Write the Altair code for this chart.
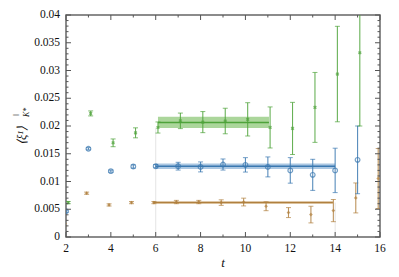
import altair as alt
import pandas as pd

# ---- data ----
t_blue = [2, 3, 4, 5, 6, 7, 8, 9, 10, 11, 12, 13, 14, 15]
y_blue = [0.00464, 0.0159, 0.01186, 0.0127, 0.01276, 0.01276, 0.01263, 0.01306, 0.0130, 0.01263, 0.0120, 0.0112, 0.0120, 0.0139]
e_blue = [0.0002, 0.0002, 0.0002, 0.0003, 0.0003, 0.0007, 0.0009, 0.0010, 0.0013, 0.0018, 0.0023, 0.0028, 0.0040, 0.0061]

t_orange = [2, 3, 4, 5, 6, 7, 8, 9, 10, 11, 12, 13, 14, 15, 16]
y_orange = [0.00224, 0.00789, 0.00578, 0.0062, 0.0062, 0.0063, 0.0063, 0.0062, 0.0063, 0.00554, 0.0044, 0.00404, 0.00476, 0.00704, 0.01054]
e_orange = [0.0002, 0.0002, 0.0002, 0.0002, 0.0002, 0.0003, 0.0003, 0.0005, 0.0007, 0.0008, 0.0009, 0.0015, 0.0020, 0.0027, 0.0054]

t_green = [2, 3, 4, 5, 6, 7, 8, 9, 10, 11, 12, 13, 14, 15]
y_green = [0.0062, 0.02227, 0.01697, 0.01877, 0.01973, 0.02093, 0.0207, 0.0209, 0.0212, 0.01974, 0.01956, 0.02335, 0.02936, 0.0332]
e_green = [0.0002, 0.00045, 0.0007, 0.0009, 0.0010, 0.0014, 0.0019, 0.0023, 0.0030, 0.0037, 0.0047, 0.0063, 0.0086, 0.0132]

# fit bands: start, end, centre, half-width
fit_series = ["orange", "blue", "green"]
fit_start = [5.9, 6.0, 6.1]
fit_end = [13.9, 14.0, 11.05]
fit_centre = [0.0062, 0.01276, 0.02065]
fit_half = [0.00025, 0.0005, 0.0010]

x_offset = {"orange": -0.08, "blue": 0.0, "green": 0.1}
line_col = {"orange": "#b0803f", "blue": "#3a78b0", "green": "#4ea33a"}
band_col = {"orange": "#e3c9a4", "blue": "#8fb4d8", "green": "#8fc87a"}

x_ticks = [2, 4, 6, 8, 10, 12, 14, 16]
x_labels = ["2", "4", "6", "8", "10", "12", "14", "16"]
x_minor = [3, 5, 7, 9, 11, 13, 15]
y_ticks = [0, 0.005, 0.01, 0.015, 0.02, 0.025, 0.03, 0.035, 0.04]
y_labels = ["0", "0.005", "0.01", "0.015", "0.02", "0.025", "0.03", "0.035", "0.04"]
y_minor = [i / 1000 for i in range(41) if i % 5 != 0]

FONT = "Liberation Serif"
W, H = 314, 222
xs = alt.Scale(domain=[2, 16], nice=False, zero=False)
ys = alt.Scale(domain=[0, 0.04], nice=False)

def xq(f):
    return alt.X(f, type="quantitative", scale=xs, axis=None)

def yq(f):
    return alt.Y(f, type="quantitative", scale=ys, axis=None)

def series_df(name, t, y, e):
    return pd.DataFrame({
        "t": [v + x_offset[name] for v in t],
        "y": y,
        "lo": [a - b for a, b in zip(y, e)],
        "hi": [a + b for a, b in zip(y, e)],
    })

fit_df = pd.DataFrame({"s": fit_series, "x0": fit_start, "x1": fit_end, "c": fit_centre,
                       "lo": [c - h for c, h in zip(fit_centre, fit_half)],
                       "hi": [c + h for c, h in zip(fit_centre, fit_half)]})

layers = []

# faint guide lines at fit boundaries
guide_df = pd.DataFrame({"t": [6, 14], "lo": [0, 0], "hi": [0.0197, 0.0062]})
layers.append(alt.Chart(guide_df).mark_rule(color="#dddddd", strokeWidth=0.8).encode(
    x=xq("t"), y=yq("lo"), y2="hi:Q"))

for _, r in fit_df.iterrows():
    one = fit_df[fit_df.s == r.s]
    layers.append(alt.Chart(one).mark_rect(color=band_col[r.s], opacity=0.75).encode(
        x=xq("x0"), x2="x1:Q", y=yq("lo"), y2="hi:Q"))
    layers.append(alt.Chart(one).mark_rule(color=line_col[r.s], strokeWidth=1.5).encode(
        x=xq("x0"), x2="x1:Q", y=yq("c")))

series = [("orange", t_orange, y_orange, e_orange, "diamond", 14, True),
          ("blue", t_blue, y_blue, e_blue, "circle", 22, False),
          ("green", t_green, y_green, e_green, "cross", 14, False)]

for name, t, y, e, shape, size, filled in series:
    df = series_df(name, t, y, e)
    col = line_col[name]
    layers.append(alt.Chart(df).mark_rule(color=col, strokeWidth=1.1, opacity=0.85, clip=True).encode(
        x=xq("t"), y=yq("lo"), y2="hi:Q"))
    layers.append(alt.Chart(df).mark_tick(color=col, orient="horizontal", size=5, thickness=1, clip=True).encode(
        x=xq("t"), y=yq("lo")))
    layers.append(alt.Chart(df).mark_tick(color=col, orient="horizontal", size=5, thickness=1, clip=True).encode(
        x=xq("t"), y=yq("hi")))
    if shape == "cross":
        pt = alt.Chart(df).mark_point(shape="cross", angle=45, size=size, color=col, filled=True, clip=True)
    else:
        pt = alt.Chart(df).mark_point(shape=shape, size=size, color=col, filled=filled,
                                      strokeWidth=1.2, clip=True)
    layers.append(pt.encode(x=xq("t"), y=yq("y")))

# inward ticks on all four sides
ymaj = pd.DataFrame({"v": y_ticks, "lab": y_labels})
ymin = pd.DataFrame({"v": y_minor})
xmaj = pd.DataFrame({"v": x_ticks, "lab": x_labels})
xmin = pd.DataFrame({"v": x_minor})
tc = "#555555"
for d, L in [(ymaj, 5), (ymin, 2.5)]:
    layers.append(alt.Chart(d).mark_rule(color=tc, strokeWidth=1).encode(
        y=yq("v"), x=alt.value(0), x2=alt.value(L)))
    layers.append(alt.Chart(d).mark_rule(color=tc, strokeWidth=1).encode(
        y=yq("v"), x=alt.value(W - L), x2=alt.value(W)))
for d, L in [(xmaj, 5), (xmin, 2.5)]:
    layers.append(alt.Chart(d).mark_rule(color=tc, strokeWidth=1).encode(
        x=xq("v"), y=alt.value(0), y2=alt.value(L)))
    layers.append(alt.Chart(d).mark_rule(color=tc, strokeWidth=1).encode(
        x=xq("v"), y=alt.value(H - L), y2=alt.value(H)))

# tick labels
layers.append(alt.Chart(ymaj).mark_text(font=FONT, fontSize=11.5, align="right", baseline="middle",
                                        color="#111111").encode(
    y=yq("v"), x=alt.value(-6), text="lab:N"))
layers.append(alt.Chart(xmaj).mark_text(font=FONT, fontSize=11.5, align="center", baseline="top",
                                        color="#111111").encode(
    x=xq("v"), y=alt.value(H + 6), text="lab:N"))

# axis titles
title_df = pd.DataFrame({"main": ["⟨ξ¹⟩"], "sup": ["‖"], "sub": ["K*"], "xt": ["t"]})
layers.append(alt.Chart(title_df).mark_text(font=FONT, fontSize=12.5, fontStyle="italic", angle=270,
                                            align="left", baseline="middle", color="#111111").encode(
    x=alt.value(-44), y=alt.value(130), text="main:N"))
layers.append(alt.Chart(title_df).mark_text(font=FONT, fontSize=9, angle=270, align="left",
                                            baseline="middle", color="#888888").encode(
    x=alt.value(-50), y=alt.value(101), text="sup:N"))
layers.append(alt.Chart(title_df).mark_text(font=FONT, fontSize=8, fontStyle="italic", angle=270,
                                            align="left", baseline="middle", color="#111111").encode(
    x=alt.value(-39), y=alt.value(102), text="sub:N"))
layers.append(alt.Chart(title_df).mark_text(font=FONT, fontSize=13, fontStyle="italic",
                                            align="center", baseline="middle", color="#111111").encode(
    x=alt.value(W / 2), y=alt.value(H + 26), text="xt:N"))

chart = alt.layer(*layers).properties(
    width=W, height=H,
    autosize=alt.AutoSizeParams(type="none"),
    padding={"left": 58, "top": 7, "right": 10, "bottom": 32},
).configure_view(stroke="#666666", strokeWidth=1.5)

chart.save("out.html", embed_options={"renderer": "svg", "actions": False})
